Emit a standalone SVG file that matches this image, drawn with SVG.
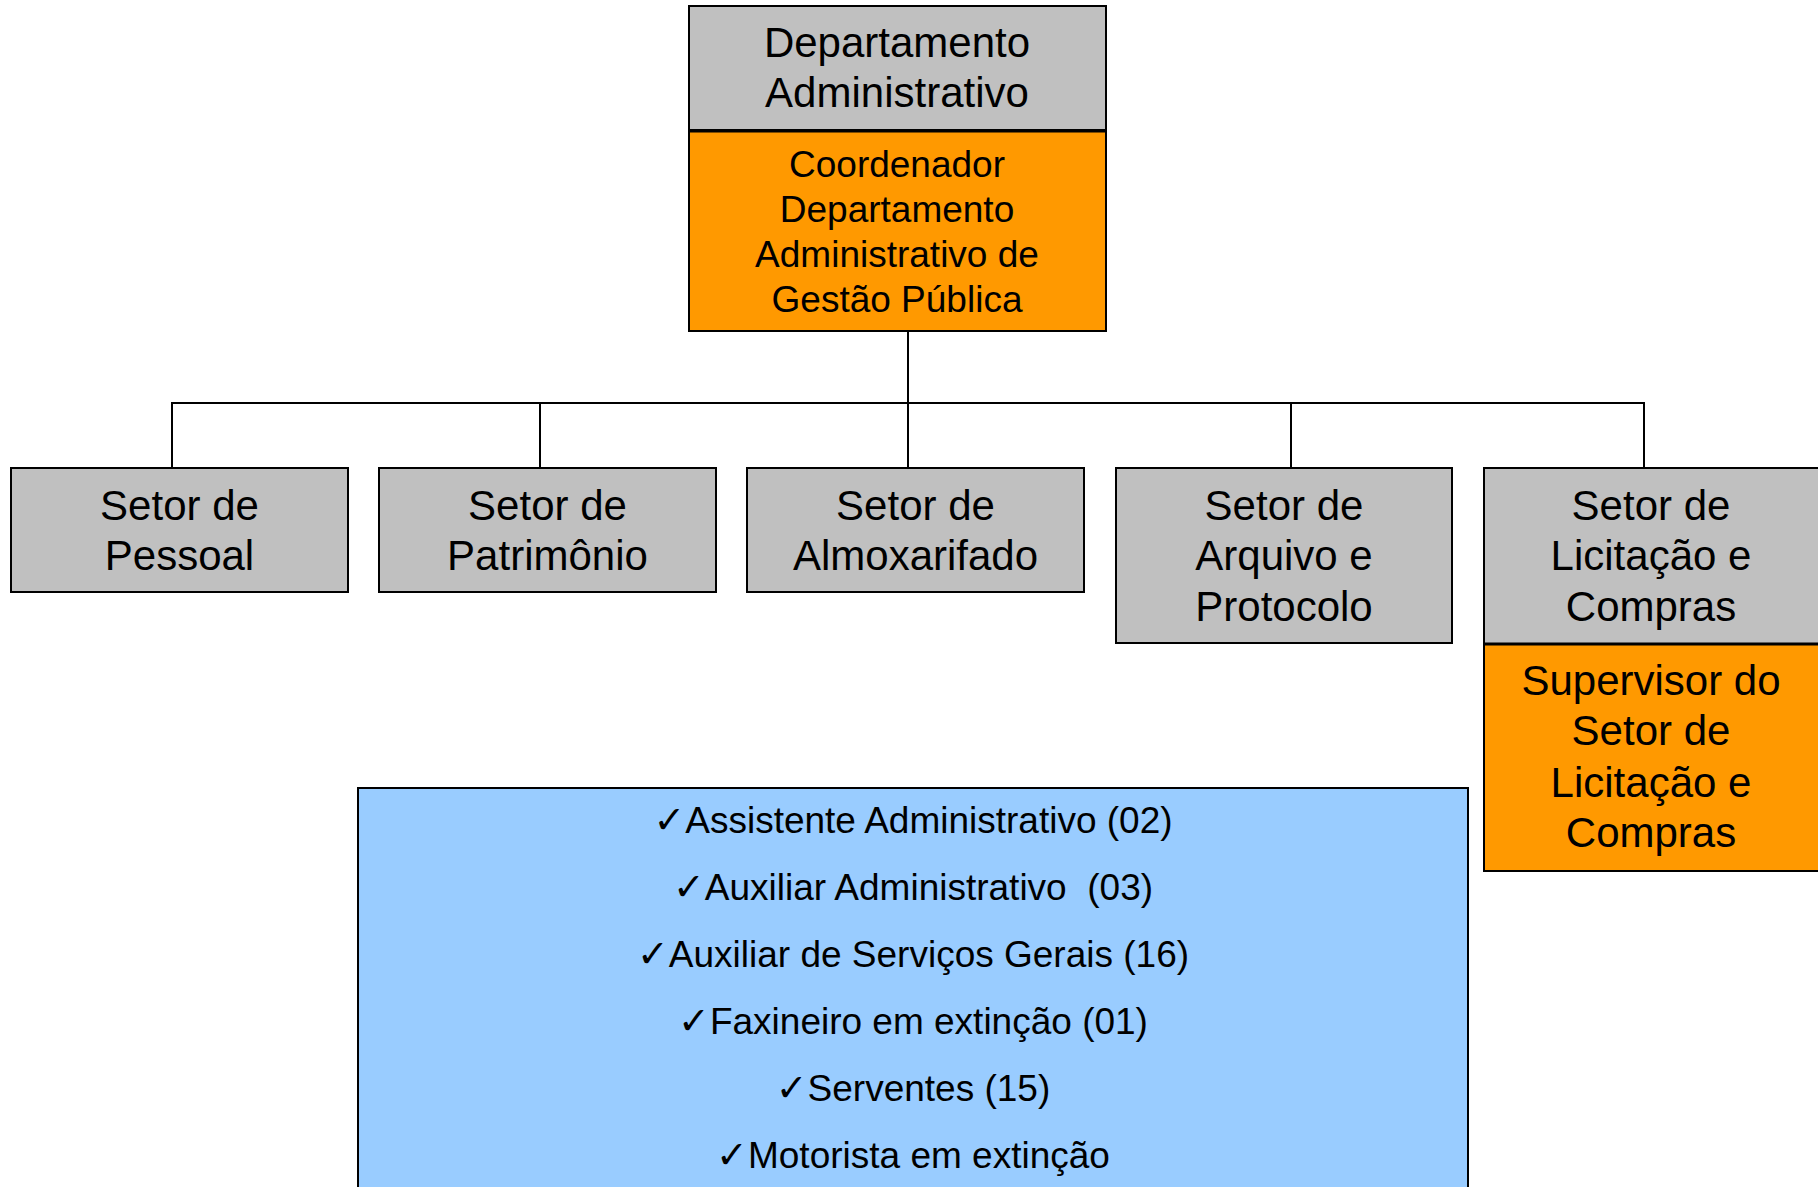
<svg xmlns="http://www.w3.org/2000/svg" width="1818" height="1187" viewBox="0 0 1818 1187">
<style>
.box{stroke:#000;stroke-width:2}
.gray{fill:#C0C0C0}
.orange{fill:#FF9900}
.blue{fill:#99CCFF}
.t42{font-family:"Liberation Sans",Arial,sans-serif;font-size:42px;text-anchor:middle;fill:#000}
.t37{font-family:"Liberation Sans",Arial,sans-serif;font-size:37px;text-anchor:middle;fill:#000;white-space:pre}
.chk{font-family:"DejaVu Sans",sans-serif;font-size:38px}
.conn{stroke:#000;stroke-width:2;fill:none}
</style>
<rect width="1818" height="1187" fill="#fff"/>
<g id="connectors">
<line class="conn" x1="908" y1="331" x2="908" y2="403"/>
<line class="conn" x1="171" y1="403" x2="1645" y2="403" stroke-width="3"/>
<line class="conn" x1="172" y1="403" x2="172" y2="468"/>
<line class="conn" x1="540" y1="403" x2="540" y2="468"/>
<line class="conn" x1="908" y1="403" x2="908" y2="468"/>
<line class="conn" x1="1291" y1="403" x2="1291" y2="468"/>
<line class="conn" x1="1644" y1="403" x2="1644" y2="468"/>
</g>
<g id="dept">
<rect class="box gray" x="689" y="6" width="417" height="124"/>
<text class="t42" x="897" y="57">Departamento</text>
<text class="t42" x="897" y="107">Administrativo</text>
</g>
<g id="coord">
<rect class="box orange" x="689" y="131" width="417" height="200"/>
<line x1="689" y1="131" x2="1106" y2="131" stroke="#000" stroke-width="3"/>
<text class="t37" x="897" y="177">Coordenador</text>
<text class="t37" x="897" y="222">Departamento</text>
<text class="t37" x="897" y="267">Administrativo de</text>
<text class="t37" x="897" y="312">Gestão Pública</text>
</g>
<g id="pessoal">
<rect class="box gray" x="11" y="468" width="337" height="124"/>
<text class="t42" x="179.5" y="520">Setor de</text>
<text class="t42" x="179.5" y="570">Pessoal</text>
</g>
<g id="patrimonio">
<rect class="box gray" x="379" y="468" width="337" height="124"/>
<text class="t42" x="547.5" y="520">Setor de</text>
<text class="t42" x="547.5" y="570">Patrimônio</text>
</g>
<g id="almoxarifado">
<rect class="box gray" x="747" y="468" width="337" height="124"/>
<text class="t42" x="915.5" y="520">Setor de</text>
<text class="t42" x="915.5" y="570">Almoxarifado</text>
</g>
<g id="arquivo">
<rect class="box gray" x="1116" y="468" width="336" height="175"/>
<text class="t42" x="1284" y="520">Setor de</text>
<text class="t42" x="1284" y="570">Arquivo e</text>
<text class="t42" x="1284" y="621">Protocolo</text>
</g>
<g id="licitacao">
<rect class="box gray" x="1484" y="468" width="336" height="176"/>
<text class="t42" x="1651" y="520">Setor de</text>
<text class="t42" x="1651" y="570">Licitação e</text>
<text class="t42" x="1651" y="621">Compras</text>
</g>
<g id="supervisor">
<rect class="box orange" x="1484" y="644" width="336" height="227"/>
<line x1="1484" y1="644" x2="1820" y2="644" stroke="#000" stroke-width="3"/>
<text class="t42" x="1651" y="695">Supervisor do</text>
<text class="t42" x="1651" y="745">Setor de</text>
<text class="t42" x="1651" y="797">Licitação e</text>
<text class="t42" x="1651" y="847">Compras</text>
</g>
<g id="cargos">
<rect class="box blue" x="358" y="788" width="1110" height="420"/>
<text class="t37" x="913" y="833"><tspan class="chk">✓</tspan>Assistente Administrativo (02)</text>
<text class="t37" x="913" y="900" xml:space="preserve"><tspan class="chk">✓</tspan>Auxiliar Administrativo  (03)</text>
<text class="t37" x="913" y="967"><tspan class="chk">✓</tspan>Auxiliar de Serviços Gerais (16)</text>
<text class="t37" x="913" y="1034"><tspan class="chk">✓</tspan>Faxineiro em extinção (01)</text>
<text class="t37" x="913" y="1101"><tspan class="chk">✓</tspan>Serventes (15)</text>
<text class="t37" x="913" y="1168"><tspan class="chk">✓</tspan>Motorista em extinção</text>
</g>
</svg>
